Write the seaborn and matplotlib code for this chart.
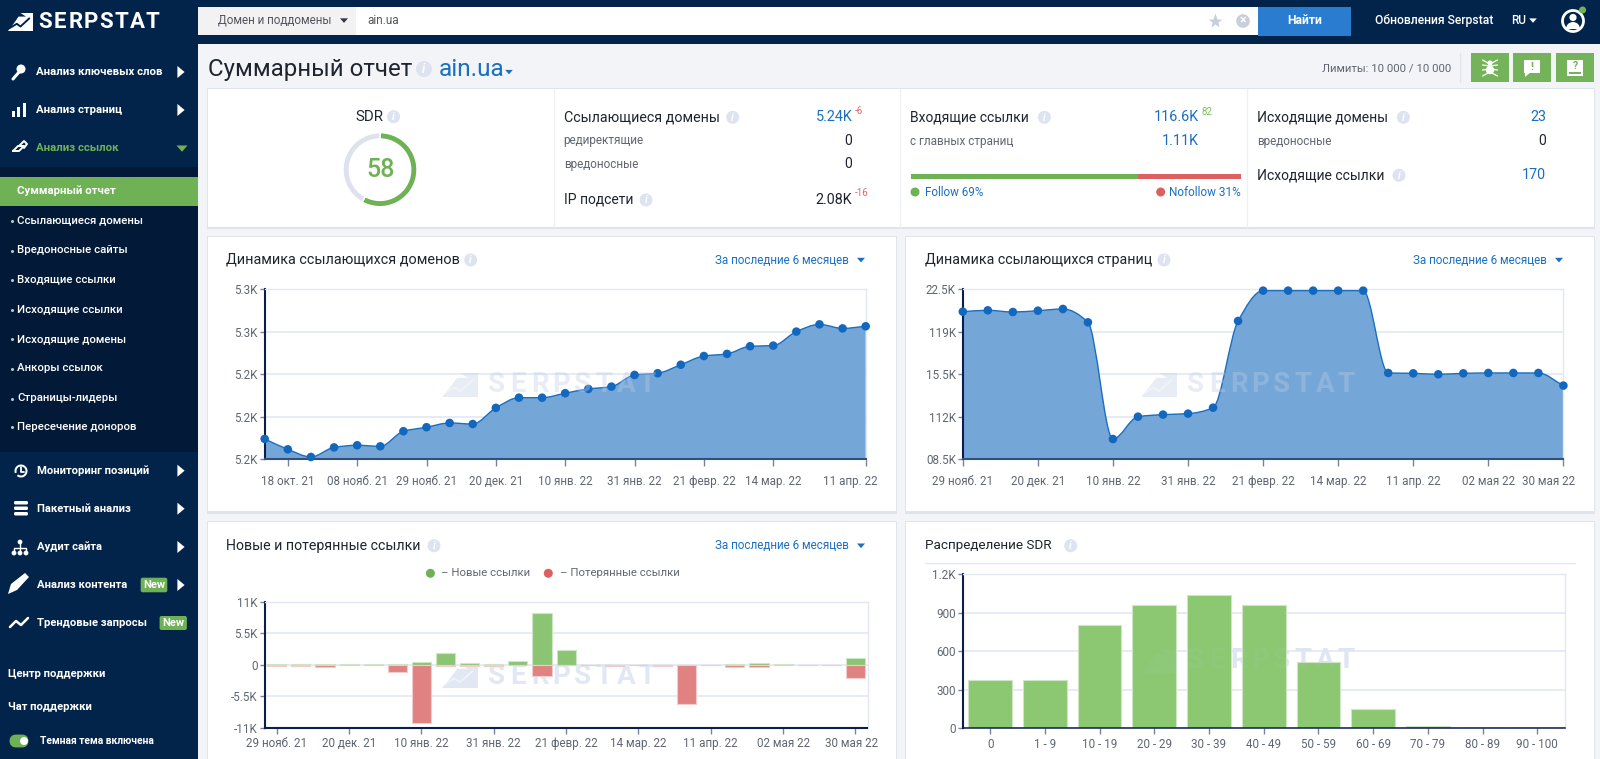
import numpy as np
import pandas as pd
import seaborn as sns
import matplotlib.pyplot as plt
from matplotlib.patches import Rectangle, Circle, Polygon, FancyBboxPatch, PathPatch, Wedge
from matplotlib.path import Path
from matplotlib.transforms import ScaledTranslation

# data
domain_dates = ['18 окт. 21', '08 нояб. 21', '29 нояб. 21', '20 дек. 21', '10 янв. 22', '31 янв. 22',
                '21 февр. 22', '14 мар. 22', '11 апр. 22']
domain_tick_idx = [1, 4, 7, 10, 13, 16, 19, 22, 26]
domains = [5209.6, 5204.7, 5201.1, 5205.6, 5206.6, 5206.1, 5213.2, 5215.1, 5217.1, 5216.6, 5224.2, 5229.0, 5229.0,
           5231.1, 5233.1, 5234.2, 5239.7, 5240.5, 5244.5, 5248.6, 5249.6, 5253.2, 5253.5, 5260.1, 5263.5, 5261.6, 5262.6]
domain_yticks = [5200, 5220, 5240, 5260, 5280]
domain_ylabels = ['5.2K', '5.2K', '5.2K', '5.3K', '5.3K']

page_dates = ['29 нояб. 21', '20 дек. 21', '10 янв. 22', '31 янв. 22', '21 февр. 22', '14 мар. 22',
              '11 апр. 22', '02 мая 22', '30 мая 22']
pages = [120.66, 120.77, 120.63, 120.74, 120.88, 119.78, 110.17, 112.01, 112.18, 112.26, 112.75, 119.89, 122.39,
         122.39, 122.39, 122.39, 122.39, 115.61, 115.58, 115.5, 115.58, 115.61, 115.61, 115.61, 114.57]
page_yticks = [108.5, 112, 115.5, 119, 122.5]
page_ylabels = ['08.5K', '112K', '15.5K', '119K', '22.5K']

new_links = [0.08, 0.15, 0.15, 0.12, 0.12, 0.12, 0.5, 2.0, 0.35, 0.2, 0.6, 9.1, 2.6, 0, 0.05, 0.02, 0.05, 0, 0.03,
             0.1, 0.4, 0.1, 0, 0, 1.15]
lost_links = [-0.15, -0.15, -0.4, -0.05, -0.05, -1.3, -10.1, -0.2, -0.2, -0.2, -0.1, -2.0, -0.1, 0, -0.15, 0, -0.15,
              -6.8, -0.03, -0.3, -0.35, -0.03, 0, 0, -2.25]
links_yticks = [-11, -5.5, 0, 5.5, 11]
links_ylabels = ['-11K', '-5.5K', '0', '5.5K', '11K']

sdr_bins = ['0', '1 - 9', '10 - 19', '20 - 29', '30 - 39', '40 - 49', '50 - 59', '60 - 69', '70 - 79', '80 - 89', '90 - 100']
sdr_counts = [379, 374, 805, 958, 1034, 961, 517, 148, 14, 1, 0]
sdr_yticks = [0, 300, 600, 900, 1200]
sdr_ylabels = ['0', '300', '600', '900', '1.2K']

menu_top = ['Анализ ключевых слов', 'Анализ страниц', 'Анализ ссылок']
menu_sub = ['Ссылающиеся домены', 'Вредоносные сайты', 'Входящие ссылки', 'Исходящие ссылки', 'Исходящие домены',
            'Анкоры ссылок', 'Страницы-лидеры', 'Пересечение доноров']
menu_low = ['Мониторинг позиций', 'Пакетный анализ', 'Аудит сайта', 'Анализ контента', 'Трендовые запросы']

NAVY = '#03244a'
DARK = '#021a38'
GREEN = '#6fb155'
BLUE = '#1a6fc0'
INK = '#1f2530'
GREY = '#5f6672'
GRID = '#e3e7f3'
AREA = '#74a6d7'
W, H = 1600, 759

sns.set_theme(style='white')
plt.rcParams['font.family'] = ['Roboto', 'DejaVu Sans']

fig = plt.figure(figsize=(W / 100, H / 100), dpi=100, facecolor='#f3f4f8')


def px_axes(l, t, r, b, zorder=1):
    return fig.add_axes([l / W, 1 - b / H, (r - l) / W, (b - t) / H], zorder=zorder)


bg = px_axes(0, 0, W, H, zorder=0)
bg.set_xlim(0, W)
bg.set_ylim(H, 0)
bg.axis('off')
top = px_axes(0, 0, W, H, zorder=5)
top.set_xlim(0, W)
top.set_ylim(H, 0)
top.axis('off')
top.patch.set_alpha(0)


def rect(ax, x0, y0, x1, y1, color, **kw):
    ax.add_patch(Rectangle((x0, y0), x1 - x0, y1 - y0, facecolor=color, edgecolor='none', **kw))


def label(x, y, s, size=9, color=INK, ha='left', weight='normal', ax=bg, **kw):
    ax.text(x, y, s, fontsize=size, color=color, ha=ha, va='center', fontweight=weight, **kw)


def info(x, y, ax=bg, r=6.5):
    ax.add_patch(Circle((x, y), r, facecolor='#dde3f0', edgecolor='none'))
    ax.text(x, y + 0.3, 'i', fontsize=r * 1.15, color='white', ha='center', va='center', fontweight='bold', style='italic')


def tri(x, y, size, color, right=False, ax=bg):
    if right:
        pts = [(x - size * 0.6, y - size), (x + size * 0.6, y), (x - size * 0.6, y + size)]
    else:
        pts = [(x - size, y - size * 0.55), (x + size, y - size * 0.55), (x, y + size * 0.6)]
    ax.add_patch(Polygon(pts, facecolor=color, edgecolor='none'))


def logo_mark(ax, x0, y0, x1, y1, color, gap, alpha=1.0):
    w, h = x1 - x0, y1 - y0
    pts = [(0, 1), (0.3, 0.45), (0.42, 0.2), (0.72, 0.2), (0.5, 0), (1, 0), (1, 1)]
    ax.add_patch(Polygon([(x0 + a * w, y0 + b * h) for a, b in pts], facecolor=color, edgecolor='none', alpha=alpha))
    zig = [(0.05, 0.85), (0.35, 0.6), (0.5, 0.75), (0.85, 0.3)]
    ax.plot([x0 + a * w for a, b in zig], [y0 + b * h for a, b in zig], color=gap, lw=1.4, alpha=alpha)


def spaced(ax, x0, x1, y, s, size, color, alpha=1.0):
    step = (x1 - x0) / len(s)
    for i, ch in enumerate(s):
        ax.text(x0 + step * (i + 0.5), y, ch, fontsize=size, color=color, ha='center', va='center',
                fontweight='bold', alpha=alpha)


def watermark(x, y, alpha=0.38, ax=top, gap='#ffffff'):
    logo_mark(ax, x, y - 12, x + 36, y + 12, '#c0cde6', gap, alpha=alpha)
    spaced(ax, x + 44, x + 216, y, 'SERPSTAT', 20, '#c0cde6', alpha=alpha)


def smooth(x, y):
    # monotone cubic segments, same look as the site's spline
    x, y = np.asarray(x, float), np.asarray(y, float)
    d = np.diff(y) / np.diff(x)
    m = np.zeros_like(y)
    m[0], m[-1] = d[0], d[-1]
    for i in range(1, len(y) - 1):
        m[i] = 0 if d[i - 1] * d[i] <= 0 else 2 * d[i - 1] * d[i] / (d[i - 1] + d[i])
    verts, codes = [(x[0], y[0])], [Path.MOVETO]
    for i in range(len(x) - 1):
        dx = (x[i + 1] - x[i]) / 3
        verts += [(x[i] + dx, y[i] + m[i] * dx), (x[i + 1] - dx, y[i + 1] - m[i + 1] * dx), (x[i + 1], y[i + 1])]
        codes += [Path.CURVE4] * 3
    return verts, codes


def style_axes(ax, yticks, ylabels, xticks, xlabels, xlen=5, xpad=6.3):
    ax.set_yticks(yticks, ylabels)
    ax.set_xticks(xticks, xlabels)
    ax.set_xlabel('')
    ax.set_ylabel('')
    ax.yaxis.grid(True, color=GRID, lw=1.2)
    ax.xaxis.grid(False)
    ax.set_axisbelow(True)
    ax.patch.set_alpha(0)
    for side in ['top', 'right']:
        ax.spines[side].set_visible(True)
        ax.spines[side].set_color(GRID)
        ax.spines[side].set_linewidth(1)
    ax.spines['left'].set_color('#0b1d4d')
    ax.spines['left'].set_linewidth(1.5)
    ax.spines['bottom'].set_color('#33507a')
    ax.spines['bottom'].set_linewidth(1.5)
    ax.tick_params(axis='both', width=1, color='#7a8496', labelsize=8.4, labelcolor=GREY, left=True, bottom=True)
    ax.tick_params(axis='y', length=3.5, pad=1.5)
    ax.tick_params(axis='x', length=xlen, pad=xpad)


def shift_last_label(ax, px):
    # the site pulls the last date label back inside the chart
    lab = ax.get_xticklabels()[-1]
    lab.set_transform(lab.get_transform() + ScaledTranslation(px / 100, 0, fig.dpi_scale_trans))


def area_chart(ax, values, yticks, ylabels, tick_idx, xlabels):
    x = np.arange(len(values))
    verts, codes = smooth(x, values)
    base = yticks[0]
    fill = verts + [(x[-1], base), (x[0], base), (x[0], values[0])]
    ax.add_patch(PathPatch(Path(fill, codes + [Path.LINETO, Path.LINETO, Path.LINETO]), facecolor=AREA, edgecolor='none', zorder=2))
    ax.add_patch(PathPatch(Path(verts, codes), facecolor='none', edgecolor=BLUE, lw=1, zorder=3))
    sns.scatterplot(x=x, y=values, ax=ax, color='#1268bf', s=38, edgecolor='none', zorder=4, clip_on=False, legend=False)
    ax.set_xlim(0, len(values) - 1)
    ax.set_ylim(yticks[0], yticks[-1])
    style_axes(ax, yticks, ylabels, tick_idx, xlabels)


# page chrome
rect(bg, 0, 0, W, 44, NAVY)
rect(bg, 0, 0, 197.5, H, NAVY)
rect(bg, 0, 167, 197.5, 451.5, DARK)
rect(bg, 0, 177.3, 197.5, 206, GREEN)
logo_mark(bg, 8, 13, 33, 31, 'white', NAVY)
spaced(bg, 37, 160, 21.7, 'SERPSTAT', 16, 'white')

for name, y, i in zip(menu_top, [71.7, 110, 148.3], range(3)):
    label(36.5, y, name, 8.2, GREEN if i == 2 else 'white', weight='bold')
tri(181, 72, 6, 'white', right=True)
tri(181, 110, 6, 'white', right=True)
tri(182, 148.5, 5.5, GREEN)
label(17, 191, 'Суммарный отчет', 8.2, 'white', weight='bold')
for name, y in zip(menu_sub, [220.4, 250, 279.6, 309.2, 338.8, 368.4, 398, 426.5]):
    bg.plot([11.5], [y + 0.5], 'o', ms=1.2, color='#b8c4d4')
    label(17, y, name, 8.2, 'white', weight='medium')
for name, y, i in zip(menu_low, [470.7, 508.7, 547, 585, 623.3], range(5)):
    label(36.7, y, name, 8.15, 'white', weight='bold')
    if i < 4:
        tri(181, y, 6, 'white', right=True)
for x0, x1, y0, y1 in [(140.7, 167.3, 577.7, 592.3), (159.6, 186.9, 616, 630)]:
    bg.add_patch(FancyBboxPatch((x0, y0), x1 - x0, y1 - y0, boxstyle='round,pad=0,rounding_size=2', facecolor=GREEN, edgecolor='none'))
    label((x0 + x1) / 2, (y0 + y1) / 2, 'New', 8, 'white', ha='center', weight='bold')
label(8, 673.7, 'Центр поддержки', 8.1, 'white', weight='bold')
label(8, 707, 'Чат поддержки', 8.1, 'white', weight='bold')
bg.add_patch(FancyBboxPatch((12, 737), 14, 8, boxstyle='round,pad=0,rounding_size=4', mutation_aspect=1, facecolor=GREEN, edgecolor=GREEN, lw=3.5))
bg.add_patch(Circle((24, 741), 4, facecolor='white', edgecolor='none'))
label(40.5, 741, 'Темная тема включена', 7.4, 'white', weight='bold')

# sidebar icons, rough shapes
bg.add_patch(Circle((21, 69), 4.5, facecolor='white', edgecolor='none'))
bg.plot([20, 13], [71, 79], color='white', lw=2.2)
for x, h in [(13, 6), (18.5, 10), (24, 14)]:
    rect(bg, x - 1.5, 117 - h, x + 1.5, 117, 'white')
bg.plot([13, 18, 24, 19, 13], [151, 146, 146, 151, 151], color='white', lw=1.4)
bg.plot([19, 24, 27, 24], [146, 141, 144, 148], color='white', lw=1.4)
bg.add_patch(Wedge((21, 471), 6.5, -200, 130, width=2, facecolor='white', edgecolor='none'))
bg.plot([21, 21, 24], [467, 472, 472], color='white', lw=1.3)
for y in [503, 508.5, 514]:
    bg.add_patch(FancyBboxPatch((14, y - 2), 14, 3.5, boxstyle='round,pad=0,rounding_size=1.5', facecolor='white', edgecolor='none'))
for x, y in [(14, 553), (20, 553), (26, 553), (20, 542)]:
    bg.add_patch(Circle((x, y), 2.4, facecolor='white', edgecolor='none'))
bg.plot([14, 14, 26, 26], [553, 547.5, 547.5, 553], color='white', lw=1)
bg.plot([20, 20], [542, 553], color='white', lw=1)
bg.add_patch(Polygon([(8, 594), (11, 584), (25, 573), (29, 577), (17, 590)], facecolor='white', edgecolor='none'))
bg.plot([10, 16, 21, 28], [627, 621, 625, 618], color='white', lw=1.8)

# search bar
rect(bg, 198, 7.3, 356.4, 35, '#f2f2f2')
rect(bg, 356.4, 7.3, 1258, 35, 'white')
rect(bg, 1258, 7, 1351.4, 35.5, '#2a7cd0')
label(218, 20.5, 'Домен и поддомены', 8.4, '#50565f')
tri(344, 20.5, 4, '#333a45')
label(367, 21, 'ain.ua', 8.5, '#50565f')
bg.plot([1215], [21], '*', ms=11, color='#c8cedb', mec='none')
bg.add_patch(Circle((1243, 21), 6.8, facecolor='#c8cedb', edgecolor='none'))
label(1243, 21, '×', 9, 'white', ha='center', weight='bold')
label(1304.5, 20.5, 'Найти', 8.7, 'white', ha='center', weight='bold')
label(1434, 20.7, 'Обновления Serpstat', 8.7, 'white', ha='center', weight='medium')
label(1519, 20.7, 'RU', 8.5, 'white', ha='center', weight='medium')
tri(1533, 20.5, 3.8, 'white')
bg.add_patch(Circle((1573, 21), 10.5, facecolor=NAVY, edgecolor='white', lw=2))
bg.add_patch(Circle((1573, 17.5), 3.6, facecolor='white', edgecolor='none'))
bg.add_patch(Wedge((1573, 29), 7, 180, 360, facecolor='white', edgecolor='none'))
bg.add_patch(Circle((1582.6, 10), 3.5, facecolor=GREEN, edgecolor='none'))

# title row
label(208, 69.5, 'Суммарный отчет', 17.3, INK)
info(424, 69, r=8)
label(438.5, 69.5, 'ain.ua', 17.6, BLUE)
tri(509, 72, 3.8, BLUE)
label(1451, 68, 'Лимиты: 10 000 / 10 000', 8.2, GREY, ha='right')
bg.plot([1460, 1460], [53, 82], color='#e2e5ec', lw=1)
for x0, x1 in [(1471, 1509), (1513, 1551), (1556, 1594)]:
    rect(bg, x0, 53.3, x1, 81.7, '#74b35a')
# spider, note and book icons on the buttons
bg.add_patch(Circle((1490, 70), 4.2, facecolor='white', edgecolor='none'))
bg.add_patch(Circle((1490, 63), 2.6, facecolor='white', edgecolor='none'))
for y0, y1 in [(60, 64), (65, 66), (70, 69), (76, 72)]:
    bg.plot([1482.5, 1490, 1497.5], [y0, y1, y0], color='white', lw=0.9)
rect(bg, 1524, 60, 1540, 73, 'white')
bg.add_patch(Polygon([(1525, 72), (1525, 77), (1531, 72)], facecolor='white', edgecolor='none'))
label(1532, 66.5, '!', 8, '#74b35a', ha='center', weight='bold')
rect(bg, 1567, 60, 1583, 76, 'white')
rect(bg, 1569, 72, 1581, 73.5, '#74b35a')
label(1575, 66, '?', 7.5, '#74b35a', ha='center', weight='bold')

# cards
for x0, y0, x1, y1 in [(208, 89, 1594, 226.7), (208, 236.7, 896, 511), (905.5, 236.7, 1594, 511),
                       (208, 521.7, 896, 770), (905.5, 521.7, 1594, 770)]:
    rect(bg, x0 - 1, y0 - 1, x1 + 1, y1 + 2.5, '#dfe3ec')
    rect(bg, x0, y0, x1, y1, 'white')
for x in [553.5, 900.4, 1247]:
    bg.plot([x, x], [89, 226.7], color='#eef0f5', lw=1)

# summary card
label(369, 116.7, 'SDR', 10.8, INK, ha='center')
info(393.6, 116.7)
ring_val = 58
ring = px_axes(343, 132.7, 417, 206.7, zorder=2)
ring.pie([ring_val, 100 - ring_val], colors=[GREEN, '#dde2ee'], startangle=90, counterclock=False,
         wedgeprops={'width': 0.17}, radius=1)
ring.set_xlim(-1, 1)
ring.set_ylim(-1, 1)
ring.set_aspect('auto')
ring.patch.set_alpha(0)
label(380.4, 169.7, '58', 18, GREEN, ha='center', weight='medium', ax=top)

label(563.7, 117.3, 'Ссылающиеся домены', 10.3, INK)
info(732.7, 117.3)
label(852.4, 117.3, '5.24K', 10.4, BLUE, ha='right')
label(855, 111, '-6', 7, '#e06666')
label(563.7, 140.7, 'редиректящие', 8.5, GREY)
label(852.4, 140.7, '0', 10, INK, ha='right')
label(563.7, 164.3, 'вредоносные', 8.5, GREY)
label(852.4, 164.3, '0', 10, INK, ha='right')
label(563.7, 200, 'IP подсети', 10, INK)
info(646, 200)
label(852.4, 200, '2.08K', 10.4, INK, ha='right')
label(855, 193, '-16', 7, '#e06666')

label(910.5, 117.3, 'Входящие ссылки', 10, INK)
info(1044.4, 117.3)
label(1199, 117.3, '116.6K', 10.4, BLUE, ha='right')
label(1202, 112, '82', 7, '#7cc05f')
label(910.5, 141, 'с главных страниц', 8.5, GREY)
label(1199, 141, '1.11K', 10.4, BLUE, ha='right')
rect(bg, 910.5, 174, 1138.4, 179, GREEN)
rect(bg, 1138.4, 174, 1240.5, 179, '#dd6060')
bg.add_patch(Circle((915, 192), 4.5, facecolor=GREEN, edgecolor='none'))
label(924.7, 192.5, 'Follow 69%', 8.4, BLUE)
bg.add_patch(Circle((1160.7, 192), 4.5, facecolor='#dd6060', edgecolor='none'))
label(1240.5, 192.5, 'Nofollow 31%', 8.5, BLUE, ha='right')

label(1256.7, 117.3, 'Исходящие домены', 10, INK)
info(1403.4, 117.3)
label(1546, 117.3, '23', 10.4, BLUE, ha='right')
label(1256.7, 141, 'вредоносные', 8.5, GREY)
label(1546, 141, '0', 10, INK, ha='right')
label(1256.7, 175.3, 'Исходящие ссылки', 10, INK)
info(1399, 175.3)
label(1546, 175.3, '170', 10.4, BLUE, ha='right')

# card headers
label(226.5, 260, 'Динамика ссылающихся доменов', 10.35, INK)
info(470.7, 260)
label(925, 260, 'Динамика ссылающихся страниц', 10.3, INK)
info(1164, 260)
label(226.5, 545.7, 'Новые и потерянные ссылки', 10.15, INK)
info(434, 545.7)
label(925, 545.7, 'Распределение SDR', 9.7, INK)
info(1070.7, 545.7)
bg.plot([925, 1575], [563, 563], color=GRID, lw=1)
for x, ax_y, arrow in [(714.8, 260, 861), (1413, 260, 1559), (714.8, 545.7, 861)]:
    label(x, ax_y, 'За последние 6 месяцев', 8.4, BLUE)
    tri(arrow, ax_y, 4, BLUE)

bg.add_patch(Circle((430.4, 573.3), 4.5, facecolor=GREEN, edgecolor='none'))
label(441, 573.3, '– Новые ссылки', 8.2, GREY)
bg.add_patch(Circle((548.3, 573.3), 4.5, facecolor='#dd6060', edgecolor='none'))
label(559.6, 573.3, '– Потерянные ссылки', 8.2, GREY)

# watermarks that sit behind the bars
watermark(442, 676, alpha=0.45, ax=bg)
watermark(1141, 661, alpha=0.45, ax=bg)

# line charts
ax1 = px_axes(264.7, 289.3, 865.7, 459.3, zorder=2)
area_chart(ax1, domains, domain_yticks, domain_ylabels, domain_tick_idx, domain_dates)
shift_last_label(ax1, -15)

ax2 = px_axes(962.8, 289.3, 1563.4, 459.3, zorder=2)
area_chart(ax2, pages, page_yticks, page_ylabels, list(range(0, 25, 3)), page_dates)
shift_last_label(ax2, -15)

# bars
ax3 = px_axes(264.7, 602, 867.5, 727.7, zorder=2)
cats = [str(i) for i in range(len(new_links))]
links = pd.DataFrame({'cat': cats, 'new': new_links, 'lost': lost_links})
sns.barplot(data=links, x='cat', y='new', ax=ax3, color='#8bc473', width=0.79, saturation=1, edgecolor='#cfe6c5', linewidth=0.8)
sns.barplot(data=links, x='cat', y='lost', ax=ax3, color='#e08282', width=0.79, saturation=1, edgecolor='#f0cccc', linewidth=0.8)
ax3.set_xlim(-0.5, len(cats) - 0.5)
ax3.set_ylim(-11, 11)
style_axes(ax3, links_yticks, links_ylabels, list(range(0, 25, 3)), page_dates, xlen=4, xpad=3)
ax3.spines['bottom'].set_color('#0b1d4d')
shift_last_label(ax3, -4)

ax4 = px_axes(962.8, 574, 1564.7, 728.3, zorder=2)
sdr = pd.DataFrame({'bin': sdr_bins, 'count': sdr_counts})
sns.barplot(data=sdr, x='bin', y='count', ax=ax4, color='#8bc871', width=0.8, saturation=1, edgecolor='#cfe6c5', linewidth=0.8)
ax4.set_xlim(-0.5, len(sdr_bins) - 0.5)
ax4.set_ylim(0, 1200)
style_axes(ax4, sdr_yticks, sdr_ylabels, list(range(len(sdr_bins))), sdr_bins, xlen=4, xpad=3)
ax4.spines['bottom'].set_color('#0b1d4d')
ax4.spines['bottom'].set_linewidth(1.1)

for x, y in [(442, 385), (1141, 385)]:
    watermark(x, y, alpha=0.36)
watermark(1141, 661, alpha=0.07, gap='#8bc871')

fig.savefig('out.png', dpi=100, facecolor=fig.get_facecolor())
